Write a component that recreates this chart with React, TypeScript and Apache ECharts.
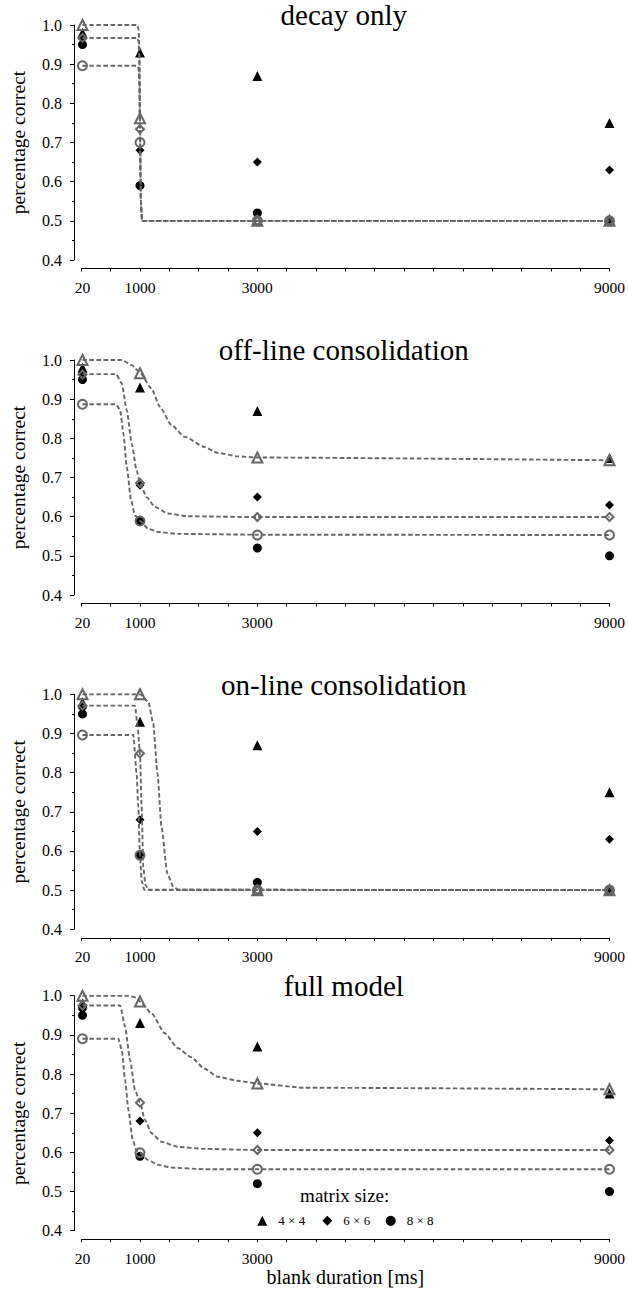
import React, { useEffect, useRef } from "react";
import * as echarts from "echarts";

// ---------- data ----------
const durations = [20, 1000, 3000, 9000];
const xTickLabels = ["20", "1000", "3000", "9000"];
const panelTitles = ["decay only", "off-line consolidation", "on-line consolidation", "full model"];
const matrixSizes = ["4 × 4", "6 × 6", "8 × 8"];
const yAxisTitle = "percentage correct";
const xAxisTitle = "blank duration [ms]";
const legendTitle = "matrix size:";

// observed (black)
const observed4 = [0.98, 0.93, 0.87, 0.75];
const observed6 = [0.965, 0.68, 0.65, 0.63];
const observed8 = [0.95, 0.59, 0.52, 0.5];

// model predictions at the tested durations (grey hollow)
const decayModel4 = [1.0, 0.762, 0.5, 0.5];
const decayModel6 = [0.967, 0.734, 0.5, 0.5];
const decayModel8 = [0.896, 0.7, 0.5, 0.5];

const offlineModel4 = [1.0, 0.966, 0.751, 0.744];
const offlineModel6 = [0.963, 0.686, 0.599, 0.599];
const offlineModel8 = [0.887, 0.589, 0.553, 0.553];

const onlineModel4 = [1.0, 1.0, 0.5, 0.5];
const onlineModel6 = [0.971, 0.849, 0.5, 0.5];
const onlineModel8 = [0.896, 0.589, 0.5, 0.5];

const fullModel4 = [1.0, 0.985, 0.776, 0.761];
const fullModel6 = [0.975, 0.727, 0.606, 0.606];
const fullModel8 = [0.89, 0.599, 0.557, 0.557];

// model curves (grey dashed)
const decayCurve4 = [[20, 1.0], [950, 1.0], [975, 0.99], [988, 0.95], [1000, 0.762], [1015, 0.55], [1035, 0.5], [9000, 0.5]];
const decayCurve6 = [[20, 0.967], [950, 0.967], [975, 0.96], [988, 0.92], [1000, 0.734], [1015, 0.55], [1035, 0.5], [9000, 0.5]];
const decayCurve8 = [[20, 0.896], [950, 0.896], [975, 0.89], [990, 0.85], [1000, 0.7], [1015, 0.55], [1035, 0.5], [9000, 0.5]];

const offlineCurve4 = [[20, 1.0], [690, 1.0], [859, 0.987], [1000, 0.968], [1197, 0.927], [1338, 0.881], [1535, 0.834], [1760, 0.804], [2098, 0.778], [2323, 0.763], [2661, 0.754], [3000, 0.751], [9000, 0.744]];
const offlineCurve6 = [[20, 0.964], [594, 0.964], [690, 0.94], [775, 0.872], [859, 0.787], [943, 0.718], [1000, 0.686], [1113, 0.65], [1253, 0.625], [1478, 0.608], [1816, 0.601], [3000, 0.599], [9000, 0.599]];
const offlineCurve8 = [[20, 0.887], [594, 0.887], [662, 0.872], [718, 0.812], [775, 0.727], [848, 0.642], [915, 0.603], [1000, 0.589], [1141, 0.569], [1310, 0.561], [1648, 0.556], [3000, 0.554], [9000, 0.553]];

const onlineCurve4 = [[20, 1.0], [1000, 1.0], [1141, 0.981], [1225, 0.926], [1298, 0.798], [1366, 0.662], [1467, 0.542], [1563, 0.51], [1648, 0.501], [9000, 0.5]];
const onlineCurve6 = [[20, 0.971], [915, 0.971], [960, 0.917], [1000, 0.849], [1028, 0.713], [1056, 0.559], [1096, 0.512], [1152, 0.5], [9000, 0.5]];
const onlineCurve8 = [[20, 0.896], [887, 0.896], [943, 0.798], [971, 0.713], [1000, 0.589], [1028, 0.525], [1073, 0.501], [9000, 0.5]];

const fullCurve4 = [[20, 1.0], [803, 1.0], [944, 0.995], [1000, 0.985], [1197, 0.955], [1422, 0.904], [1647, 0.866], [1872, 0.843], [2098, 0.814], [2323, 0.793], [2661, 0.783], [3000, 0.776], [3800, 0.765], [9000, 0.761]];
const fullCurve6 = [[20, 0.975], [662, 0.975], [746, 0.921], [831, 0.836], [915, 0.759], [1000, 0.727], [1084, 0.683], [1197, 0.649], [1366, 0.627], [1647, 0.614], [2098, 0.609], [3000, 0.606], [9000, 0.606]];
const fullCurve8 = [[20, 0.89], [633, 0.89], [690, 0.861], [746, 0.785], [803, 0.708], [876, 0.631], [944, 0.604], [1000, 0.599], [1141, 0.58], [1310, 0.568], [1535, 0.561], [2098, 0.557], [3000, 0.557], [9000, 0.557]];

const observed = [observed4, observed6, observed8];
const models = [
  [decayModel4, decayModel6, decayModel8],
  [offlineModel4, offlineModel6, offlineModel8],
  [onlineModel4, onlineModel6, onlineModel8],
  [fullModel4, fullModel6, fullModel8],
];
const curves = [
  [decayCurve4, decayCurve6, decayCurve8],
  [offlineCurve4, offlineCurve6, offlineCurve8],
  [onlineCurve4, onlineCurve6, onlineCurve8],
  [fullCurve4, fullCurve6, fullCurve8],
];

// ---------- styling ----------
const FONT = "'Liberation Serif', 'Times New Roman', serif";
const GRID_TOPS = [25, 360, 694.3, 995.7];
const GRID_LEFT = 75.3;
const GRID_WIDTH = 537;
const GRID_HEIGHT = 235;
const SYMBOLS = ["triangle", "diamond", "circle"];
const OBS_SIZES = [10, 9, 9];
const MODEL_SIZES = [10, 8, 9];
const GREY = "#666666";
const LEGEND_ICON_X = [262.3, 327.3, 390.7];

function buildOption() {
  const grid: any[] = [];
  const xAxis: any[] = [];
  const yAxis: any[] = [];
  const series: any[] = [];
  const graphic: any[] = [];

  for (let p = 0; p < 4; p++) {
    grid.push({ left: GRID_LEFT, top: GRID_TOPS[p], width: GRID_WIDTH, height: GRID_HEIGHT, containLabel: false });
    xAxis.push({
      type: "value",
      gridIndex: p,
      min: 0,
      max: 9000,
      interval: 500,
      offset: 8.5,
      axisLine: { show: true, onZero: false, lineStyle: { color: "#000", width: 1 } },
      axisTick: { show: true, length: 3, lineStyle: { color: "#000" } },
      splitLine: { show: false },
      axisLabel: {
        customValues: durations,
        formatter: (v: number) => {
          const k = durations.indexOf(v);
          return k >= 0 ? xTickLabels[k] : "";
        },
        fontSize: 15.5,
        fontFamily: FONT,
        color: "#000",
        margin: 11,
      },
      name: p === 3 ? xAxisTitle : "",
      nameLocation: "middle",
      nameGap: 23,
      nameTextStyle: { fontSize: 20, fontFamily: FONT, color: "#000" },
    });
    yAxis.push({
      type: "value",
      gridIndex: p,
      min: 0.4,
      max: 1.0,
      interval: 0.1,
      offset: 7.3,
      axisLine: { show: true, onZero: false, lineStyle: { color: "#000", width: 1 } },
      axisTick: { show: true, length: 4, lineStyle: { color: "#000" } },
      minorTick: { show: true, splitNumber: 2, length: 2, lineStyle: { color: "#000" } },
      splitLine: { show: false },
      axisLabel: {
        formatter: (v: number) => v.toFixed(1),
        fontSize: 16,
        fontFamily: FONT,
        color: "#000",
        margin: 12,
      },
      name: yAxisTitle,
      nameLocation: "middle",
      nameRotate: 90,
      nameGap: 46,
      nameTextStyle: { fontSize: 19.5, fontFamily: FONT, color: "#000" },
    });

    for (let i = 0; i < 3; i++) {
      series.push({
        type: "scatter",
        name: matrixSizes[i],
        xAxisIndex: p,
        yAxisIndex: p,
        data: durations.map((d, k) => [d, observed[i][k]]),
        symbol: SYMBOLS[i],
        symbolSize: OBS_SIZES[i],
        itemStyle: { color: "#000", opacity: 1 },
        silent: true,
        z: 2,
      });
    }
    for (let i = 0; i < 3; i++) {
      series.push({
        type: "line",
        name: `${panelTitles[p]} fit ${matrixSizes[i]}`,
        xAxisIndex: p,
        yAxisIndex: p,
        data: curves[p][i],
        showSymbol: false,
        symbol: "none",
        smooth: 0.2,
        smoothMonotone: "x",
        lineStyle: { color: GREY, width: 1.9, type: [4.5, 2.5] },
        silent: true,
        z: 3,
      });
    }
    for (let i = 0; i < 3; i++) {
      series.push({
        type: "scatter",
        name: `${panelTitles[p]} model ${matrixSizes[i]}`,
        xAxisIndex: p,
        yAxisIndex: p,
        data: durations.map((d, k) => [d, models[p][i][k]]),
        symbol: SYMBOLS[i],
        symbolSize: MODEL_SIZES[i],
        itemStyle: { color: "rgba(255,255,255,0)", borderColor: GREY, borderWidth: 2, opacity: 1 },
        silent: true,
        z: 4,
      });
    }

    graphic.push({
      type: "text",
      x: GRID_LEFT + GRID_WIDTH / 2,
      y: GRID_TOPS[p] - 9.8,
      style: {
        text: panelTitles[p],
        fontSize: 29,
        fontFamily: FONT,
        fill: "#000",
        align: "center",
        verticalAlign: "middle",
      },
    });
  }

  graphic.push({
    type: "text",
    x: 344.7,
    y: 1195.3,
    style: {
      text: legendTitle,
      fontSize: 19,
      fontFamily: FONT,
      fill: "#000",
      align: "center",
      verticalAlign: "middle",
    },
  });

  const legend = matrixSizes.map((n, i) => ({
    data: [{ name: n, icon: SYMBOLS[i] }],
    left: LEGEND_ICON_X[i] - 5,
    top: 1214.3,
    padding: 0,
    orient: "horizontal",
    itemWidth: 10,
    itemHeight: 10,
    selectedMode: false,
    itemStyle: { color: "#000", opacity: 1 },
    textStyle: { fontSize: 13, fontFamily: FONT, color: "#000", padding: [0, 0, 0, 6] },
  }));

  return {
    animation: false,
    backgroundColor: "#fff",
    grid,
    xAxis,
    yAxis,
    series,
    graphic,
    legend,
  };
}

export default function App() {
  const ref = useRef<HTMLDivElement>(null);
  useEffect(() => {
    if (!ref.current) return;
    const chart = echarts.init(ref.current, undefined, { renderer: "svg" });
    chart.setOption(buildOption() as any);
    return () => chart.dispose();
  }, []);
  return (
    <div
      ref={ref}
      style={{ position: "absolute", left: 0, top: 0, width: 628, height: 1291, background: "#fff" }}
    />
  );
}
